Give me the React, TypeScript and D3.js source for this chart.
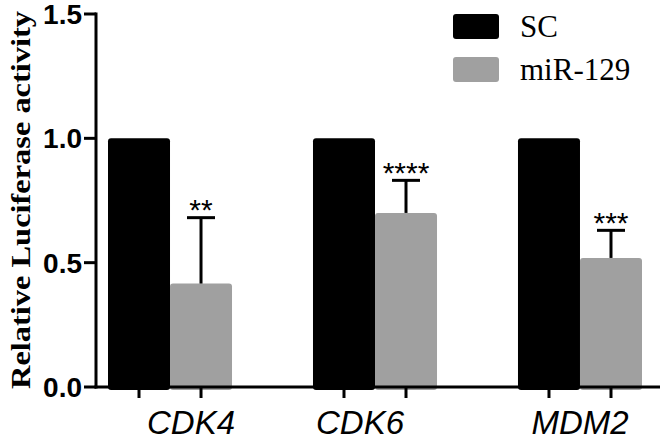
import React from "react";
import * as d3 from "d3";

const categories = ["CDK4", "CDK6", "MDM2"];
const seriesNames = ["SC", "miR-129"];
const scValues = [1.0, 1.0, 1.0];
const mirValues = [0.416, 0.70, 0.519];
const mirErrors = [0.265, 0.131, 0.111];
const significance = ["**", "****", "***"];
const yTicks = [0.0, 0.5, 1.0, 1.5];
const labelShift = [21, -15, 0];

const W = 660;
const H = 441;
const colors = ["#000000", "#a0a0a0"];

export default function App() {
  const y = d3.scaleLinear().domain([0, 1.5]).range([387, 14]);
  const x0 = d3.scaleBand<string>().domain(categories).range([108, 642]).paddingInner(0.395).paddingOuter(0);
  const x1 = d3.scaleBand<string>().domain(seriesNames).range([0, x0.bandwidth()]).padding(0);
  const axisX = 96;
  const series = [scValues, mirValues];
  const sans = "'Liberation Sans', Arial, sans-serif";
  const serif = "'Liberation Serif', 'Times New Roman', serif";

  return (
    <svg width={W} height={H} style={{ position: "absolute", left: 0, top: 0, background: "#fff" }}>
      {/* bars */}
      {categories.map((c, i) =>
        seriesNames.map((s, j) => {
          const v = series[j][i];
          const bx = (x0(c) as number) + (x1(s) as number);
          return (
            <rect key={c + s} x={bx} y={y(v)} width={x1.bandwidth()} height={y(0) - y(v) + 3} rx={3} fill={colors[j]} />
          );
        })
      )}
      {/* error bars */}
      {categories.map((c, i) => {
        const cx = (x0(c) as number) + (x1("miR-129") as number) + x1.bandwidth() / 2;
        const top = y(mirValues[i] + mirErrors[i]);
        return (
          <g key={"e" + c}>
            <line x1={cx} x2={cx} y1={y(mirValues[i])} y2={top} stroke="#000" strokeWidth={3} />
            <line x1={cx - 14} x2={cx + 14} y1={top} y2={top} stroke="#000" strokeWidth={3} />
            <text x={cx} y={top + 2.5} textAnchor="middle" fontFamily={sans} fontSize={30} fill="#000">
              {significance[i]}
            </text>
          </g>
        );
      })}
      {/* y axis */}
      <line x1={axisX} x2={axisX} y1={y(1.5) - 1.5} y2={y(0) + 1.5} stroke="#000" strokeWidth={3} />
      {yTicks.map((t) => (
        <g key={"t" + t}>
          <line x1={84} x2={axisX} y1={y(t)} y2={y(t)} stroke="#000" strokeWidth={3} />
          <text x={82} y={y(t)} dy="0.36em" textAnchor="end" fontFamily={sans} fontWeight="bold" fontSize={28} fill="#000">
            {t.toFixed(1)}
          </text>
        </g>
      ))}
      {/* x axis */}
      <line x1={axisX - 1.5} x2={W} y1={y(0)} y2={y(0)} stroke="#000" strokeWidth={3} />
      {categories.map((c) =>
        seriesNames.map((s) => {
          const cx = (x0(c) as number) + (x1(s) as number) + x1.bandwidth() / 2;
          return <line key={"xt" + c + s} x1={cx} x2={cx} y1={y(0)} y2={y(0) + 11} stroke="#000" strokeWidth={3} />;
        })
      )}
      {categories.map((c, i) => (
        <text
          key={"xl" + c}
          x={(x0(c) as number) + x0.bandwidth() / 2 + labelShift[i]}
          y={434}
          textAnchor="middle"
          fontFamily={sans}
          fontStyle="italic"
          fontSize={33}
          fill="#000"
        >
          {c}
        </text>
      ))}
      {/* y title */}
      <text
        transform={`translate(30,${(10 + 390) / 2}) rotate(-90)`}
        textAnchor="middle"
        fontFamily={serif}
        fontWeight="bold"
        fontSize={27}
        textLength={378}
        lengthAdjust="spacingAndGlyphs"
        fill="#000"
      >
        Relative Luciferase activity
      </text>
      {/* legend */}
      {seriesNames.map((s, j) => (
        <g key={"lg" + s}>
          <rect x={453} y={14 + j * 43} width={46} height={25} rx={3} fill={colors[j]} />
          <text x={520} y={37 + j * 43} fontFamily={serif} fontSize={31} fill="#000">
            {s}
          </text>
        </g>
      ))}
    </svg>
  );
}
